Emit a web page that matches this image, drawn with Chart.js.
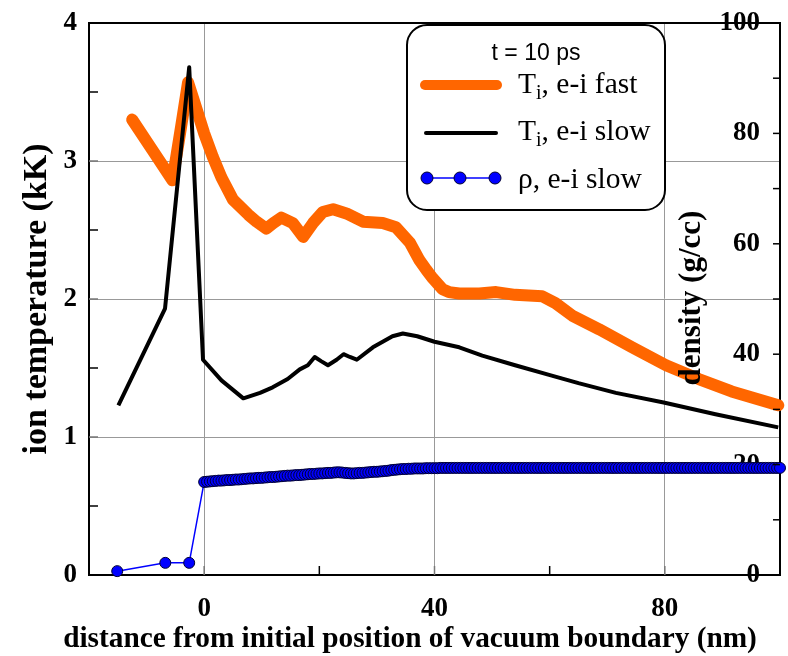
<!DOCTYPE html>
<html>
<head>
<meta charset="utf-8">
<script src="https://cdn.jsdelivr.net/npm/chart.js@4.4.0/dist/chart.umd.min.js"></script>
<style>
  body { margin: 0; background: #fff; }
  #wrap { width: 788px; height: 656px; }
</style>
</head>
<body>
<div id="wrap"><canvas id="myChart" width="788" height="656"></canvas></div>
<script>
// T_i, e-i fast (kK)
const xFast = [-12.5, -9, -5.5, -4, -2.8, -1.5, 0, 1.5, 3, 5, 7.7, 9.1, 10.8, 12, 13.4, 15.4, 17.2, 18.9,
  20.6, 22.4, 24.7, 27.6, 31, 33.3, 35.7, 37.4, 38.6, 39.7, 41.4, 42.5, 44.3, 47.8, 50.7, 54, 58.7,
  61, 63.9, 68.6, 74.3, 80.2, 85.9, 91.6, 99.7]
const tFast = [3.30, 3.08, 2.86, 3.25, 3.57, 3.40, 3.20, 3.03, 2.88, 2.72, 2.61, 2.56, 2.51, 2.55, 2.59, 2.55, 2.45, 2.55,
  2.63, 2.65, 2.62, 2.56, 2.55, 2.52, 2.41, 2.28, 2.21, 2.15, 2.07, 2.05, 2.04, 2.04, 2.05, 2.03, 2.02,
  1.97, 1.88, 1.78, 1.65, 1.52, 1.42, 1.33, 1.23]

// T_i, e-i slow (kK)
const xSlow = [-14.9, -6.8, -2.6, -0.2, 3, 6.8, 9.7, 11.9, 14.5, 16.6, 18, 19.2, 20.3, 21.5, 23, 24.2, 25.3, 26.5,
  29.3, 32.7, 34.5, 37, 40, 44.3, 48.3, 54, 59.9, 65, 71.5, 79.8, 88.8, 99.7]
const tSlow = [1.23, 1.93, 3.68, 1.56, 1.41, 1.28, 1.32, 1.36, 1.42, 1.49, 1.52, 1.58, 1.55, 1.52, 1.56, 1.60, 1.58, 1.56,
  1.65, 1.73, 1.75, 1.73, 1.69, 1.65, 1.59, 1.52, 1.45, 1.39, 1.32, 1.25, 1.165, 1.07]

// rho, e-i slow (g/cc)
const xRho = [-15.1, -6.75, -2.6,
  0, 0.5, 1, 1.5, 2, 2.5, 3, 3.5, 4, 4.5, 5, 5.5, 6, 6.5, 7, 7.5, 8, 8.5, 9, 9.5,
  10, 10.5, 11, 11.5, 12, 12.5, 13, 13.5, 14, 14.5, 15, 15.5, 16, 16.5, 17, 17.5, 18, 18.5, 19, 19.5,
  20, 20.5, 21, 21.5, 22, 22.5, 23, 23.5, 24, 24.5, 25, 25.5, 26, 26.5, 27, 27.5, 28, 28.5, 29, 29.5,
  30, 30.5, 31, 31.5, 32, 32.5, 33, 33.5, 34, 34.5, 35, 35.5, 36, 36.5, 37, 37.5, 38, 38.5, 39, 39.5,
  40, 40.5, 41, 41.5, 42, 42.5, 43, 43.5, 44, 44.5, 45, 45.5, 46, 46.5, 47, 47.5, 48, 48.5, 49, 49.5,
  50, 50.5, 51, 51.5, 52, 52.5, 53, 53.5, 54, 54.5, 55, 55.5, 56, 56.5, 57, 57.5, 58, 58.5, 59, 59.5,
  60, 60.5, 61, 61.5, 62, 62.5, 63, 63.5, 64, 64.5, 65, 65.5, 66, 66.5, 67, 67.5, 68, 68.5, 69, 69.5,
  70, 70.5, 71, 71.5, 72, 72.5, 73, 73.5, 74, 74.5, 75, 75.5, 76, 76.5, 77, 77.5, 78, 78.5, 79, 79.5,
  80, 80.5, 81, 81.5, 82, 82.5, 83, 83.5, 84, 84.5, 85, 85.5, 86, 86.5, 87, 87.5, 88, 88.5, 89, 89.5,
  90, 90.5, 91, 91.5, 92, 92.5, 93, 93.5, 94, 94.5, 95, 95.5, 96, 96.5, 97, 97.5, 98, 98.5, 99, 99.5, 100]
const rho = [0.7, 2.2, 2.2,
  16.85, 16.9, 16.95, 17.0, 17.05, 17.1, 17.1, 17.15, 17.2, 17.2, 17.25, 17.3, 17.3, 17.35, 17.4, 17.45, 17.5, 17.5, 17.55, 17.6,
  17.6, 17.65, 17.7, 17.75, 17.75, 17.8, 17.85, 17.9, 17.95, 18.0, 18.0, 18.05, 18.1, 18.1, 18.15, 18.2, 18.25, 18.3, 18.3, 18.35,
  18.4, 18.4, 18.45, 18.5, 18.5, 18.55, 18.6, 18.6, 18.55, 18.5, 18.45, 18.4, 18.4, 18.45, 18.5, 18.5, 18.55, 18.6, 18.65, 18.7,
  18.7, 18.75, 18.8, 18.85, 18.9, 19.0, 19.05, 19.1, 19.15, 19.2, 19.2, 19.25, 19.25, 19.3, 19.3, 19.3, 19.3, 19.35, 19.35, 19.35,
  19.35, 19.35, 19.4, 19.4, 19.4, 19.4, 19.4, 19.4, 19.4, 19.4, 19.4, 19.4, 19.4, 19.4, 19.4, 19.4, 19.4, 19.4, 19.4, 19.4,
  19.4, 19.4, 19.4, 19.4, 19.4, 19.4, 19.4, 19.4, 19.4, 19.4, 19.4, 19.4, 19.4, 19.4, 19.4, 19.4, 19.4, 19.4, 19.4, 19.4,
  19.4, 19.4, 19.4, 19.4, 19.4, 19.4, 19.4, 19.4, 19.4, 19.4, 19.4, 19.4, 19.4, 19.4, 19.4, 19.4, 19.4, 19.4, 19.4, 19.4,
  19.4, 19.4, 19.4, 19.4, 19.4, 19.4, 19.4, 19.4, 19.4, 19.4, 19.4, 19.4, 19.4, 19.4, 19.4, 19.4, 19.4, 19.4, 19.4, 19.4,
  19.4, 19.4, 19.4, 19.4, 19.4, 19.4, 19.4, 19.4, 19.4, 19.4, 19.4, 19.4, 19.4, 19.4, 19.4, 19.4, 19.4, 19.4, 19.4, 19.4,
  19.4, 19.4, 19.4, 19.4, 19.4, 19.4, 19.4, 19.4, 19.4, 19.4, 19.4, 19.4, 19.4, 19.4, 19.4, 19.4, 19.4, 19.4, 19.4, 19.4, 19.4]

const xLabeled = [0, 40, 80]
const serif = '"Liberation Serif", "Times New Roman", serif'

function pts (xs, ys) {
    return xs.map((x, i) => ({x: x, y: ys[i]}))
}

function fixBox (w, h) {
    return s => {
        if (w !== null) s.width = w
        if (h !== null) s.height = h
        s.paddingTop = 0; s.paddingBottom = 0; s.paddingLeft = 0; s.paddingRight = 0
    }
}

// frame top, inward ticks, titles, legend box
const extras = {
    id: 'extras',
    afterDraw (chart) {
        const ctx = chart.ctx
        const a = chart.chartArea
        const sx = chart.scales.x, sy = chart.scales.y, sy2 = chart.scales.y2
        ctx.save()
        ctx.strokeStyle = '#000'
        ctx.lineWidth = 2
        ctx.beginPath()
        ctx.moveTo(a.left - 1, a.top)
        ctx.lineTo(a.right + 1, a.top)
        ctx.stroke()

        ctx.lineWidth = 1.5
        for (let v = 0.5; v < 4; v += 0.5) {
            const p = sy.getPixelForValue(v)
            ctx.strokeStyle = Number.isInteger(v) ? '#777' : '#000'
            ctx.beginPath(); ctx.moveTo(a.left, p); ctx.lineTo(a.left + 9, p); ctx.stroke()
        }
        for (let v = 0; v < 100; v += 20) {
            const p = sx.getPixelForValue(v)
            ctx.strokeStyle = xLabeled.includes(v) ? '#777' : '#000'
            ctx.beginPath(); ctx.moveTo(p, a.bottom); ctx.lineTo(p, a.bottom - 9); ctx.stroke()
        }
        ctx.strokeStyle = '#000'
        for (let v = 10; v < 100; v += 10) {
            const p = sy2.getPixelForValue(v)
            ctx.beginPath(); ctx.moveTo(a.right, p); ctx.lineTo(a.right - 7, p); ctx.stroke()
        }

        ctx.fillStyle = '#000'
        ctx.textBaseline = 'middle'
        ctx.textAlign = 'center'
        // x title is shifted left of the plot centre
        ctx.font = 'bold 29.3px ' + serif
        ctx.fillText('distance from initial position of vacuum boundary (nm)', 410, 639)

        // right axis title sits inside the plot
        ctx.save()
        ctx.translate(692, 298)
        ctx.rotate(-Math.PI / 2)
        ctx.font = 'bold 31px ' + serif
        ctx.fillText('density (g/cc)', 0, 0)
        ctx.restore()

        // legend
        const bx = 407, by = 25, bw = 258, bh = 185
        ctx.fillStyle = '#fff'
        ctx.strokeStyle = '#000'
        ctx.lineWidth = 2
        ctx.beginPath()
        ctx.roundRect(bx, by, bw, bh, 20)
        ctx.fill()
        ctx.stroke()

        ctx.fillStyle = '#000'
        ctx.font = '23px "Liberation Sans", Arial, sans-serif'
        ctx.textAlign = 'center'
        ctx.textBaseline = 'alphabetic'
        ctx.fillText('t = 10 ps', 536, 60)

        ctx.lineCap = 'round'
        ctx.strokeStyle = '#ff6600'
        ctx.lineWidth = 10
        ctx.beginPath(); ctx.moveTo(425, 85); ctx.lineTo(497, 85); ctx.stroke()
        ctx.strokeStyle = '#000'
        ctx.lineWidth = 4
        ctx.beginPath(); ctx.moveTo(426, 133); ctx.lineTo(496, 133); ctx.stroke()
        ctx.lineCap = 'butt'
        ctx.strokeStyle = '#0000ff'
        ctx.lineWidth = 1.5
        ctx.beginPath(); ctx.moveTo(427, 178); ctx.lineTo(495, 178); ctx.stroke()
        for (const cx of [427, 460, 495]) {
            ctx.beginPath()
            ctx.arc(cx, 178, 6, 0, Math.PI * 2)
            ctx.fillStyle = '#0000ff'
            ctx.fill()
            ctx.strokeStyle = '#000033'
            ctx.lineWidth = 1
            ctx.stroke()
        }

        ctx.fillStyle = '#000'
        ctx.textAlign = 'left'
        const entries = [['T', 'i', ', e-i fast', 93], ['T', 'i', ', e-i slow', 140], ['\u03c1', '', ', e-i slow', 188]]
        for (const [main, sub, rest, y] of entries) {
            let x = 518
            ctx.font = '29.5px ' + serif
            ctx.fillText(main, x, y)
            x += ctx.measureText(main).width
            if (sub) {
                ctx.font = '20px ' + serif
                ctx.fillText(sub, x, y + 6)
                x += ctx.measureText(sub).width
            }
            ctx.font = '29.5px ' + serif
            ctx.fillText(rest, x, y)
        }
        ctx.restore()
    }
}

const chartContext = document.getElementById('myChart').getContext('2d')

const myChart = new Chart(chartContext, {
    type: 'line',
    data: {
        datasets: [
            {
                label: '\u03c1, e-i slow',
                data: pts(xRho, rho),
                yAxisID: 'y2',
                borderColor: '#0000ff',
                borderWidth: 1.5,
                pointRadius: 5.5,
                pointBackgroundColor: '#0000ff',
                pointBorderColor: '#000033',
                pointBorderWidth: 1,
                clip: false,
                order: 0
            },
            {
                label: 'Ti, e-i slow',
                data: pts(xSlow, tSlow),
                yAxisID: 'y',
                borderColor: '#000',
                borderWidth: 4,
                borderJoinStyle: 'round',
                pointRadius: 0,
                clip: false,
                order: 1
            },
            {
                label: 'Ti, e-i fast',
                data: pts(xFast, tFast),
                yAxisID: 'y',
                borderColor: '#ff6600',
                borderWidth: 12,
                borderJoinStyle: 'round',
                borderCapStyle: 'round',
                pointRadius: 0,
                clip: false,
                order: 2
            }
        ]
    },
    options: {
        responsive: false,
        animation: false,
        layout: {padding: {top: 23, left: 0, right: 0, bottom: 0}},
        plugins: {
            legend: {display: false},
            tooltip: {enabled: false}
        },
        scales: {
            x: {
                type: 'linear',
                min: -20,
                max: 100,
                afterFit: fixBox(null, 81),
                ticks: {
                    stepSize: 20,
                    autoSkip: false,
                    maxRotation: 0,
                    padding: 18,
                    color: '#000',
                    font: {family: serif, size: 27, weight: 'bold'},
                    callback: v => xLabeled.includes(v) ? v : ''
                },
                grid: {
                    drawTicks: false,
                    lineWidth: 1,
                    color: c => (c.tick && xLabeled.includes(c.tick.value)) ? '#999' : 'rgba(0,0,0,0)'
                },
                border: {color: '#000', width: 2}
            },
            y: {
                position: 'left',
                min: 0,
                max: 4,
                afterFit: fixBox(89, null),
                ticks: {
                    stepSize: 0.5,
                    autoSkip: false,
                    padding: 12,
                    color: '#000',
                    font: {family: serif, size: 27, weight: 'bold'},
                    callback: v => Number.isInteger(v) ? v : ''
                },
                grid: {
                    drawTicks: false,
                    lineWidth: 1,
                    color: c => (c.tick && [1, 2, 3].includes(c.tick.value)) ? '#999' : 'rgba(0,0,0,0)'
                },
                border: {color: '#000', width: 2},
                title: {
                    display: true,
                    text: 'ion temperature (kK)',
                    color: '#000',
                    font: {family: serif, size: 34, weight: 'bold', lineHeight: 1},
                    padding: {top: 20, bottom: 0}
                }
            },
            y2: {
                position: 'right',
                min: 0,
                max: 100,
                afterFit: fixBox(8, null),
                ticks: {
                    stepSize: 10,
                    autoSkip: false,
                    mirror: true,
                    padding: -20,
                    color: '#000',
                    font: {family: serif, size: 27, weight: 'bold'},
                    callback: v => v % 20 === 0 ? v : ''
                },
                grid: {drawOnChartArea: false, drawTicks: false},
                border: {color: '#000', width: 2}
            }
        }
    },
    plugins: [extras]
})
</script>
</body>
</html>
